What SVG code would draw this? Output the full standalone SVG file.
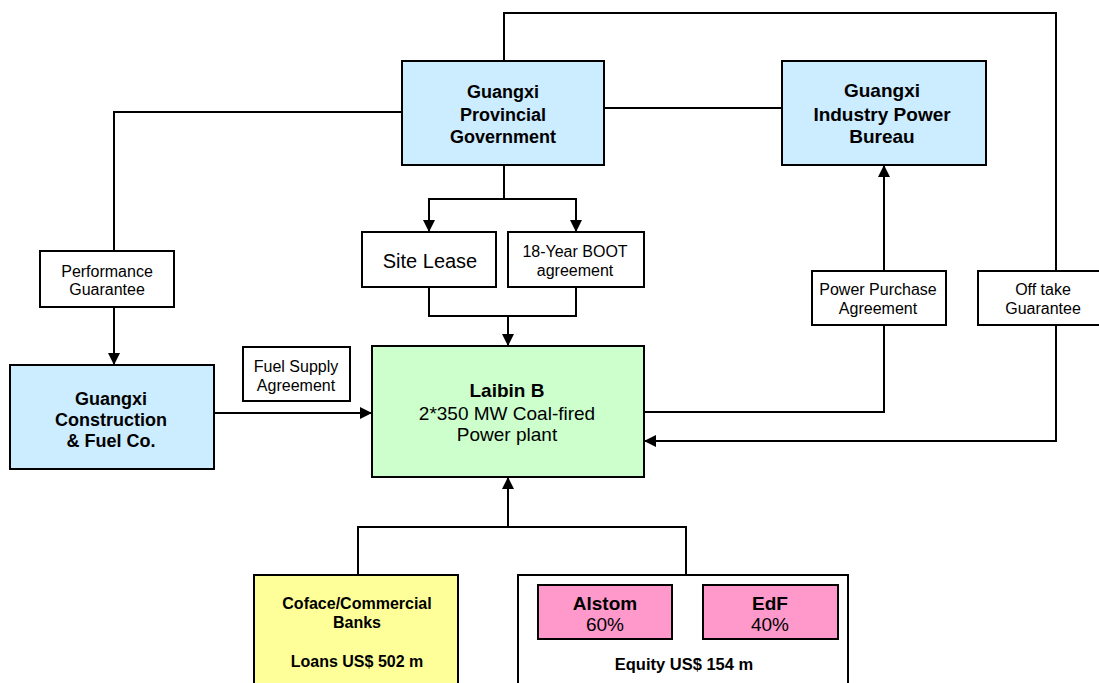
<svg xmlns="http://www.w3.org/2000/svg" width="1099" height="683" viewBox="0 0 1099 683">
<defs>
<marker id="arr" markerUnits="userSpaceOnUse" markerWidth="14" markerHeight="14" refX="12" refY="6" orient="auto">
<path d="M0,0 L12,6 L0,12 Z" fill="#000"/>
</marker>
<style>
.box{stroke:#000;stroke-width:2}
.blue{fill:#CCECFF}
.green{fill:#CCFFCC}
.yellow{fill:#FFFF99}
.pink{fill:#FF99CC}
.white{fill:#FFFFFF}
.ln{fill:none;stroke:#000;stroke-width:2}
text{font-family:"Liberation Sans",Arial,sans-serif;fill:#000;text-anchor:middle}
.t18b{font-size:18px;font-weight:bold}
.t19b{font-size:19px;font-weight:bold}
.t19{font-size:19px}
.t20{font-size:20px}
.t15{font-size:16px}
.t15b{font-size:16px;font-weight:bold}
.t16b{font-size:16.5px;font-weight:bold}
</style>
</defs>
<rect width="1099" height="683" fill="#fff"/>
<g id="connectors">
<polyline class="ln" points="504,61 504,13 1056,13 1056,271"/>
<polyline class="ln" points="402,112 114,112 114,251"/>
<line class="ln" x1="114" y1="307" x2="114" y2="365" marker-end="url(#arr)"/>
<line class="ln" x1="604" y1="108" x2="782" y2="108"/>
<line class="ln" x1="504" y1="165" x2="504" y2="199"/>
<polyline class="ln" points="429,232 429,199 576,199 576,232"/>
<line class="ln" x1="429" y1="205" x2="429" y2="232" marker-end="url(#arr)"/>
<line class="ln" x1="576" y1="205" x2="576" y2="232" marker-end="url(#arr)"/>
<polyline class="ln" points="429,287 429,316 576,316 576,287"/>
<line class="ln" x1="508" y1="316" x2="508" y2="346" marker-end="url(#arr)"/>
<line class="ln" x1="214" y1="413" x2="372" y2="413" marker-end="url(#arr)"/>
<line class="ln" x1="884" y1="271" x2="884" y2="165" marker-end="url(#arr)"/>
<polyline class="ln" points="884,325 884,412 644,412"/>
<polyline class="ln" points="1056,325 1056,441 650,441"/>
<line class="ln" x1="700" y1="441" x2="644" y2="441" marker-end="url(#arr)"/>
<polyline class="ln" points="358,575 358,527 686,527 686,575"/>
<line class="ln" x1="508" y1="527" x2="508" y2="477" marker-end="url(#arr)"/>
</g>
<g id="gov">
<rect class="box blue" x="402" y="61" width="202" height="104"/>
<text class="t18b" x="503" y="98">Guangxi</text>
<text class="t18b" x="503" y="121">Provincial</text>
<text class="t18b" x="503" y="143">Government</text>
</g>
<g id="bureau">
<rect class="box blue" x="782" y="61" width="204" height="104"/>
<text class="t19b" x="882" y="97">Guangxi</text>
<text class="t19b" x="882" y="121">Industry Power</text>
<text class="t19b" x="882" y="143">Bureau</text>
</g>
<g id="perf">
<rect class="box white" x="40" y="251" width="134" height="56"/>
<text class="t15" x="107" y="277">Performance</text>
<text class="t15" x="107" y="295">Guarantee</text>
</g>
<g id="sitelease">
<rect class="box white" x="362" y="232" width="134" height="55"/>
<text class="t20" x="430" y="268">Site Lease</text>
</g>
<g id="boot">
<rect class="box white" x="508" y="232" width="136" height="55"/>
<text class="t15" x="575" y="257">18-Year BOOT</text>
<text class="t15" x="575" y="276">agreement</text>
</g>
<g id="ppa">
<rect class="box white" x="812" y="271" width="134" height="54"/>
<text class="t15" x="878" y="295">Power Purchase</text>
<text class="t15" x="878" y="314">Agreement</text>
</g>
<g id="offtake">
<rect class="box white" x="978" y="271" width="140" height="54"/>
<text class="t15" x="1043" y="295">Off take</text>
<text class="t15" x="1043" y="314">Guarantee</text>
</g>
<g id="construction">
<rect class="box blue" x="10" y="365" width="204" height="104"/>
<text class="t18b" x="111" y="405">Guangxi</text>
<text class="t18b" x="111" y="426">Construction</text>
<text class="t18b" x="111" y="447">&amp; Fuel Co.</text>
</g>
<g id="fuel">
<rect class="box white" x="243" y="347" width="107" height="54"/>
<text class="t15" x="296" y="372">Fuel Supply</text>
<text class="t15" x="296" y="391">Agreement</text>
</g>
<g id="laibin">
<rect class="box green" x="372" y="346" width="272" height="131"/>
<text class="t19b" x="507" y="397">Laibin B</text>
<text class="t19" x="507" y="420">2*350 MW Coal-fired</text>
<text class="t19" x="507" y="441">Power plant</text>
</g>
<g id="coface">
<rect class="box yellow" x="254" y="575" width="204" height="125"/>
<text class="t15b" x="357" y="609">Coface/Commercial</text>
<text class="t15b" x="357" y="628">Banks</text>
<text class="t15b" x="357" y="667">Loans US$ 502 m</text>
</g>
<g id="equity">
<rect class="box white" x="518" y="575" width="330" height="125"/>
<text class="t16b" x="684" y="670">Equity US$ 154 m</text>
</g>
<g id="alstom">
<rect class="box pink" x="538" y="585" width="134" height="54"/>
<text class="t19b" x="605" y="610">Alstom</text>
<text class="t19" x="605" y="631">60%</text>
</g>
<g id="edf">
<rect class="box pink" x="703" y="585" width="135" height="54"/>
<text class="t19b" x="770" y="610">EdF</text>
<text class="t19" x="770" y="631">40%</text>
</g>
</svg>
